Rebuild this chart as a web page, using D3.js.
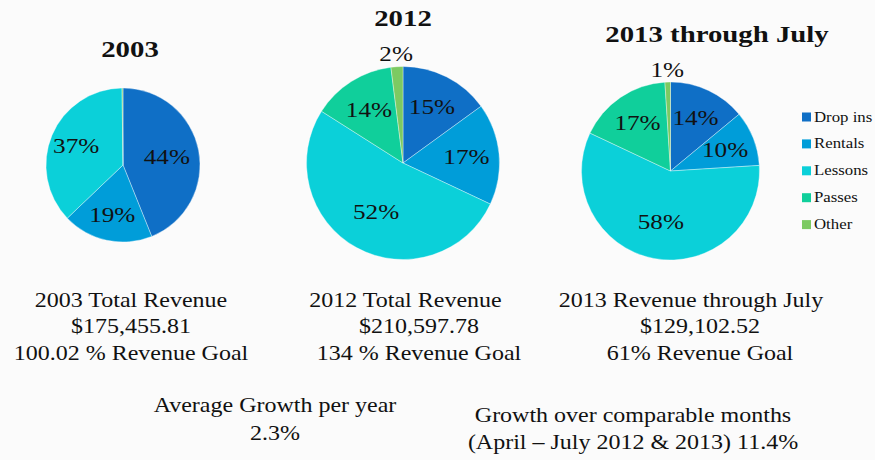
<!DOCTYPE html>
<html>
<head>
<meta charset="utf-8">
<script src="https://cdn.jsdelivr.net/npm/d3@7"></script>
<style>
  html, body { margin: 0; padding: 0; background: #fbfbfb; }
  svg { display: block; }
  text { font-family: "Liberation Serif", "DejaVu Serif", serif; fill: #111; }
</style>
</head>
<body>
<svg id="chart" width="875" height="460"></svg>
<script>
// ---- data ----
const categories = ["Drop ins", "Rentals", "Lessons", "Passes", "Other"];
const colors = ["#0F6FC6", "#009DD9", "#0BD0D9", "#10CF9B", "#7CCA62"];
const pieTitles = ["2003", "2012", "2013 through July"];
const values2003 = [44, 19, 37, 0, 0.2];
const values2012 = [15, 17, 52, 14, 2];
const values2013 = [14, 10, 58, 17, 1];
const summary2003 = ["2003 Total Revenue", "$175,455.81", "100.02 % Revenue Goal"];
const summary2012 = ["2012 Total Revenue", "$210,597.78", "134 % Revenue Goal"];
const summary2013 = ["2013 Revenue through July", "$129,102.52", "61% Revenue Goal"];
const growthYear = ["Average Growth per year", "2.3%"];
const growthMonths = ["Growth over comparable months", "(April \u2013 July 2012 & 2013) 11.4%"];

// ---- layout ----
const svg = d3.select("#chart");
const SX = 1.2; // horizontal widening to mimic the wider original typeface

function label(parent, x, y, str, size, opts = {}) {
  const g = parent.append("g").attr("transform", `translate(${x},${y}) scale(${SX},1)`);
  const t = g.append("text")
    .attr("text-anchor", opts.anchor || "middle")
    .attr("font-size", size)
    .attr("font-weight", opts.bold ? "bold" : "normal")
    .text(str);
  if (opts.dy) t.attr("dy", opts.dy);
  return t;
}

const color = d3.scaleOrdinal().domain(categories).range(colors);
const pie = d3.pie().sort(null).value(d => d.v);

const pies = [
  { values: values2003, cx: 123, cy: 165, r: 77, title: pieTitles[0], tx: 130, ty: 57 },
  { values: values2012, cx: 403, cy: 163, r: 96.5, title: pieTitles[1], tx: 403, ty: 26 },
  { values: values2013, cx: 670.5, cy: 171, r: 89, title: pieTitles[2], tx: 717, ty: 42 }
];

pies.forEach(p => {
  const data = categories.map((c, i) => ({ c, v: p.values[i] }));
  const arcs = pie(data);
  const arc = d3.arc().innerRadius(0).outerRadius(p.r);
  const inLabel = d3.arc().innerRadius(p.r * 0.66).outerRadius(p.r * 0.66);
  const bigLabel = d3.arc().innerRadius(p.r * 0.58).outerRadius(p.r * 0.58);
  const outLabel = d3.arc().innerRadius(p.r * 1.14).outerRadius(p.r * 1.14);
  const g = svg.append("g").attr("transform", `translate(${p.cx},${p.cy})`);
  g.selectAll("path").data(arcs.filter(d => d.data.v > 0)).join("path")
    .attr("d", arc)
    .attr("fill", d => color(d.data.c))
    .attr("stroke", "#ffffff")
    .attr("stroke-width", 0.6)
    .attr("stroke-opacity", 0.6);
  arcs.filter(d => d.data.v >= 0.5).forEach(d => {
    const a = d.data.v < 5 ? outLabel : (d.data.v > 40 ? bigLabel : inLabel);
    const pos = a.centroid(d);
    label(g, pos[0], pos[1], d3.format(".0f")(d.data.v) + "%", 21, { dy: "0.35em" });
  });
  label(svg, p.tx, p.ty, p.title, 24, { bold: true });
});

// legend
const legend = svg.append("g").attr("transform", "translate(802,112)");
categories.forEach((c, i) => {
  const y = i * 26.9;
  legend.append("rect").attr("x", 0).attr("y", y + 0.5).attr("width", 9).attr("height", 9)
    .attr("fill", color(c));
  label(legend, 12, y + 9.5, c, 14, { anchor: "start" });
});

// summaries
const summaries = [
  { lines: summary2003, xs: [131, 131, 131] },
  { lines: summary2012, xs: [405.5, 419, 419] },
  { lines: summary2013, xs: [691, 700, 700] }
];
const baseY = [306.5, 333, 360];
summaries.forEach(s => {
  s.lines.forEach((t, i) => label(svg, s.xs[i], baseY[i], t, 20));
});
growthYear.forEach((t, i) => label(svg, 275, 411.5 + i * 28.5, t, 20));
growthMonths.forEach((t, i) => label(svg, 633, 421.5 + i * 27, t, 20));
</script>
</body>
</html>
